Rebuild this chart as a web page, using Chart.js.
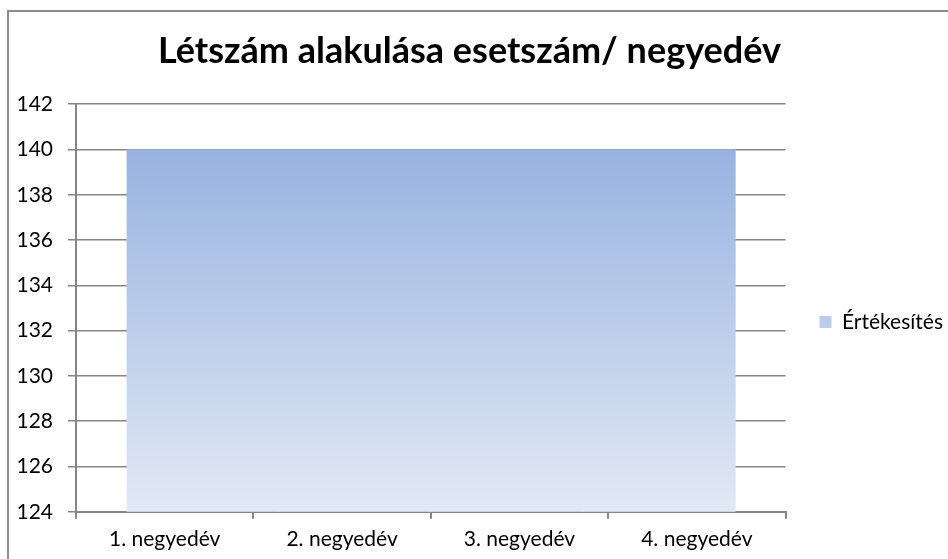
<!DOCTYPE html>
<html>
<head>
<meta charset="utf-8">
<script src="https://cdn.jsdelivr.net/npm/chart.js@4.4.0/dist/chart.umd.min.js"></script>
<style>
  html, body { margin: 0; padding: 0; background: #fff; overflow: hidden; }
  #wrap { position: relative; width: 948px; height: 559px; overflow: hidden; }
  #frame { position: absolute; left: 7px; top: 10px; width: 960px; height: 600px; border: 2px solid #8c8c8c; box-sizing: border-box; }
  canvas { position: absolute; left: 0; top: 0; }
</style>
</head>
<body>
<div id="wrap">
  <div id="frame"></div>
  <canvas id="chart" width="948" height="559"></canvas>
</div>
<script>
const chartTitle = 'Létszám alakulása esetszám/ negyedév';
const quarters = ['1. negyedév', '2. negyedév', '3. negyedév', '4. negyedév'];
const seriesName = 'Értékesítés';
const salesValues = [140, 140, 140, 140];
const yMin = 124;
const yMax = 142;
const yStep = 2;

Chart.defaults.font.family = "Lato, 'Liberation Sans', sans-serif";
Chart.defaults.color = '#000';

// vertical gradient like the Excel fill: darker at the top of the area
function areaFill(context) {
    const chart = context.chart;
    const area = chart.chartArea;
    if (!area) {
        return '#b4c7ea';
    }
    const top = chart.scales.y.getPixelForValue(Math.max(...salesValues));
    const g = chart.ctx.createLinearGradient(0, top, 0, area.bottom);
    g.addColorStop(0, '#98b3e0');
    g.addColorStop(1, '#e2e9f5');
    return g;
}

const ctx = document.getElementById('chart').getContext('2d');

new Chart(ctx, {
    type: 'bar',
    data: {
        labels: quarters,
        datasets: [{
            label: seriesName,
            data: salesValues.map((v, i) => ({ x: i, y: v })),
            xAxisID: 'x2',
            yAxisID: 'y',
            backgroundColor: areaFill,
            borderWidth: 0,
            barPercentage: 1,
            categoryPercentage: 1
        }]
    },
    options: {
        responsive: false,
        animation: false,
        devicePixelRatio: 1,
        layout: { padding: { top: 0, right: -5, bottom: -1, left: -14 } },
        plugins: {
            title: {
                display: true,
                text: chartTitle,
                color: '#000',
                font: { size: 36, weight: 'bold' },
                padding: { top: 30, bottom: 31 }
            },
            legend: {
                position: 'right',
                fullSize: false,
                title: { display: true, text: ' ', font: { size: 20 }, padding: 2 },
                labels: {
                    boxWidth: 12,
                    boxHeight: 12,
                    padding: 10,
                    color: '#000',
                    font: { size: 21 }
                }
            },
            tooltip: { enabled: false }
        },
        scales: {
            x: {
                type: 'category',
                position: 'bottom',
                offset: true,
                grid: { offset: true, drawOnChartArea: false, tickLength: 7, color: '#868686', lineWidth: 2 },
                border: { color: '#868686', width: 2 },
                ticks: { padding: 8, maxRotation: 0, autoSkip: false, font: { size: 21 } }
            },
            x2: {
                type: 'linear',
                display: false,
                min: -0.835,
                max: 3.83,
                afterBuildTicks: s => { s.ticks = []; }
            },
            y: {
                min: yMin,
                max: yMax,
                ticks: { stepSize: yStep, padding: 15, font: { size: 21 } },
                grid: { tickLength: 8, color: '#868686', lineWidth: 1.5 },
                border: { color: '#868686', width: 2 },
                afterFit: s => { s.width = 90; }
            },
            spacer: {
                type: 'linear',
                position: 'right',
                ticks: { display: false },
                grid: { display: false },
                border: { display: false },
                afterFit: s => { s.width = 24; }
            }
        }
    }
});
</script>
</body>
</html>
